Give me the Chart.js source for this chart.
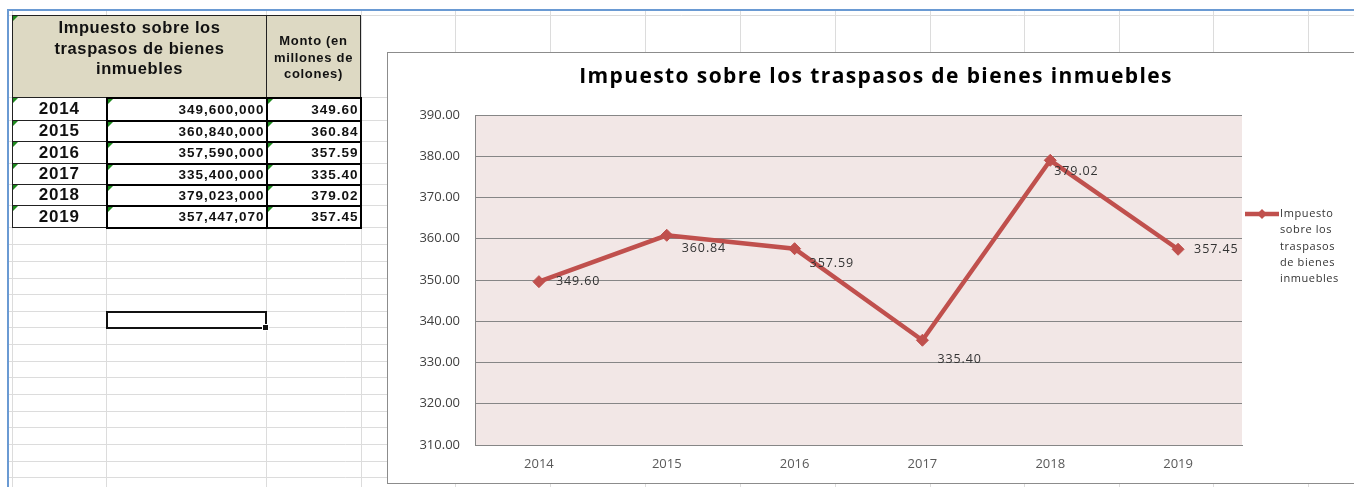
<!DOCTYPE html>
<html>
<head>
<meta charset="utf-8">
<script src="https://cdn.jsdelivr.net/npm/chart.js@4"></script>
<style>
    html, body { margin: 0; padding: 0; background: #fff; overflow: hidden; }
    #sheet { position: absolute; left: 0; top: 0; }
    #tabla { position: absolute; left: 12px; top: 15px; border-collapse: collapse; table-layout: fixed;
             font-family: "Liberation Sans", Arial, sans-serif; color: #111; }
    #tabla td { padding: 0; position: relative; box-sizing: border-box; background: #fff; }
    #tabla td.hdr { background: #DDD9C3; border: 1px solid #222; text-align: center; font-weight: bold; }
    #tabla td.big { font-size: 16.5px; line-height: 20.5px; letter-spacing: 0.6px; vertical-align: top; padding-top: 1px; }
    #tabla td.small { font-size: 13px; line-height: 16.5px; letter-spacing: 0.7px; vertical-align: top; padding-top: 17px; }
    #tabla td.anio { border: 1px solid #222; text-align: center; font-weight: bold; font-size: 17px; letter-spacing: 0.8px; }
    #tabla td.num { border: 2px solid #000; text-align: right; font-weight: bold; font-size: 13.5px; padding-right: 1px; letter-spacing: 1px; }
    #tabla td.tri::before { content: ""; position: absolute; left: 0; top: 0; border-top: 5px solid #1E8A1E; border-right: 5px solid transparent; }
    #sel { position: absolute; left: 106px; top: 311px; width: 157px; height: 14px; border: 2px solid #111; }
    #handle { position: absolute; left: 262px; top: 324px; width: 5px; height: 5px; background: #111; border: 1px solid #fff; }
    #box { position: absolute; left: 387px; top: 52px; width: 966px; height: 430px; border: 1px solid #8c8c8c; background: #fff; }
    #chart { position: absolute; left: 0; top: 0; }
</style>
</head>
<body>
<canvas id="sheet" width="1354" height="487"></canvas>
<table id="tabla"></table>
<div id="sel"></div><div id="handle"></div>
<div id="box"><canvas id="chart" width="966" height="430"></canvas></div>
<script>
// datos
const years = ["2014", "2015", "2016", "2017", "2018", "2019"];
const montoColones = [349600000, 360840000, 357590000, 335400000, 379023000, 357447070];
const montoMillones = [349.60, 360.84, 357.59, 335.40, 379.02, 357.45];
const seriesName = "Impuesto sobre los traspasos de bienes inmuebles";
const colHeader = "Monto (en millones de colones)";
const yMin = 310, yMax = 390, yStep = 10;

// hoja de calculo de fondo
const sh = document.getElementById("sheet").getContext("2d");
sh.fillStyle = "#fff";
sh.fillRect(0, 0, 1354, 487);
sh.strokeStyle = "#DCDCDC";
sh.lineWidth = 1;
const colLines = [12, 106, 266, 361, 455, 550, 645, 740, 835, 930, 1024, 1119, 1213, 1308];
const rowLines = [15, 97, 120, 141, 163, 184, 205, 227, 244, 261, 278, 294, 311, 327, 344, 361, 377, 394, 411, 427, 444, 461, 477];
colLines.forEach((x) => { sh.beginPath(); sh.moveTo(x + 0.5, 11); sh.lineTo(x + 0.5, 487); sh.stroke(); });
rowLines.forEach((y) => { sh.beginPath(); sh.moveTo(9, y + 0.5); sh.lineTo(1354, y + 0.5); sh.stroke(); });
sh.strokeStyle = "#6A9AD3";
sh.lineWidth = 2;
sh.beginPath(); sh.moveTo(8, 10); sh.lineTo(1354, 10); sh.stroke();
sh.beginPath(); sh.moveTo(8, 9); sh.lineTo(8, 487); sh.stroke();

// tabla
const tabla = document.getElementById("tabla");
const colW = [94, 160, 94];
const rowH = [23, 21, 22, 21, 21, 22];
let html = "<colgroup>" + colW.map((w) => '<col style="width:' + w + 'px">').join("") + "</colgroup>";
html += '<tr style="height:82px"><td class="hdr big tri" colspan="2">Impuesto sobre los<br>traspasos de bienes<br>inmuebles</td>' +
        '<td class="hdr small">Monto (en<br>millones de<br>colones)</td></tr>';
years.forEach((y, i) => {
    html += '<tr style="height:' + rowH[i] + 'px"><td class="anio tri">' + y + '</td>' +
            '<td class="num tri">' + montoColones[i].toLocaleString("en-US") + '</td>' +
            '<td class="num tri">' + montoMillones[i].toFixed(2) + '</td></tr>';
});
tabla.innerHTML = html;

// grafico
const plotBg = {
    id: "plotBg",
    beforeDraw(chart) {
        const a = chart.chartArea, c = chart.ctx;
        c.save();
        c.fillStyle = "#F2E7E6";
        c.fillRect(a.left, a.top, a.right - a.left, a.bottom - a.top);
        c.restore();
    },
};

const titleText = {
    id: "titleText",
    afterDraw(chart) {
        const c = chart.ctx;
        c.save();
        c.font = "bold 21px 'Open Sans'";
        c.letterSpacing = "1.4px";
        c.fillStyle = "#000";
        c.textAlign = "center";
        c.textBaseline = "middle";
        c.fillText(seriesName, 488, 24);
        c.restore();
    },
};

const labelOffsets = [[17, 0], [15, 13], [15, 15], [15, 19], [4, 11], [16, 0]];
const dataLabels = {
    id: "dataLabels",
    afterDatasetsDraw(chart) {
        const c = chart.ctx;
        const meta = chart.getDatasetMeta(0);
        c.save();
        c.font = "12.5px 'Open Sans'";
        c.letterSpacing = "0.9px";
        c.fillStyle = "#333";
        c.textAlign = "left";
        c.textBaseline = "middle";
        meta.data.forEach((pt, i) => {
            const v = chart.data.datasets[0].data[i];
            c.fillText(v.toFixed(2), pt.x + labelOffsets[i][0], pt.y + labelOffsets[i][1]);
        });
        c.restore();
    },
};

const sideLegend = {
    id: "sideLegend",
    afterDraw(chart) {
        const c = chart.ctx, a = chart.chartArea;
        const ds = chart.data.datasets[0];
        const x0 = a.right + 3, y0 = a.top + 99;
        c.save();
        c.strokeStyle = ds.borderColor;
        c.lineWidth = ds.borderWidth;
        c.beginPath(); c.moveTo(x0, y0); c.lineTo(x0 + 34, y0); c.stroke();
        c.fillStyle = ds.borderColor;
        c.beginPath();
        c.moveTo(x0 + 17, y0 - 5); c.lineTo(x0 + 22, y0); c.lineTo(x0 + 17, y0 + 5); c.lineTo(x0 + 12, y0);
        c.closePath(); c.fill();
        c.font = "11px 'Open Sans'";
        c.letterSpacing = "0.6px";
        c.fillStyle = "#333";
        c.textBaseline = "middle";
        // partir el nombre en lineas
        const words = ds.label.split(" ");
        const lines = [];
        let cur = "";
        words.forEach((w) => {
            const t = cur ? cur + " " + w : w;
            if (cur && c.measureText(t).width > 62) { lines.push(cur); cur = w; } else { cur = t; }
        });
        lines.push(cur);
        lines.forEach((l, i) => c.fillText(l, x0 + 35, y0 + i * 16.2));
        c.restore();
    },
};

const ctx = document.getElementById("chart").getContext("2d");
const myChart = new Chart(ctx, {
    type: "line",
    data: {
        labels: years,
        datasets: [
            {
                label: seriesName,
                data: montoMillones,
                borderColor: "#C0504D",
                backgroundColor: "#C0504D",
                borderWidth: 4.5,
                pointStyle: "rectRot",
                pointRadius: 6,
                pointBorderWidth: 1,
                pointBackgroundColor: "#C0504D",
                pointBorderColor: "#C0504D",
                tension: 0,
            },
        ],
    },
    options: {
        responsive: false,
        animation: false,
        layout: { padding: { top: 62, right: 112, left: 0, bottom: 0 } },
        scales: {
            x: {
                offset: true,
                grid: { display: false, drawTicks: false },
                border: { color: "#868686", width: 1 },
                ticks: { color: "#595959", padding: 11, font: { family: "Open Sans", size: 13 } },
                afterFit: (s) => { s.height = 38; },
            },
            y: {
                min: yMin,
                max: yMax,
                grid: { color: "#868686", lineWidth: 1, drawTicks: false },
                border: { color: "#868686", width: 1 },
                ticks: {
                    stepSize: yStep,
                    padding: 15,
                    color: "#404040",
                    font: { family: "Open Sans", size: 13 },
                    callback: (v) => v.toFixed(2),
                },
                afterFit: (s) => { s.width = 87; },
            },
        },
        plugins: {
            legend: { display: false },
            title: { display: false },
            tooltip: { enabled: false },
        },
    },
    plugins: [plotBg, dataLabels, titleText, sideLegend],
});
</script>
</body>
</html>
